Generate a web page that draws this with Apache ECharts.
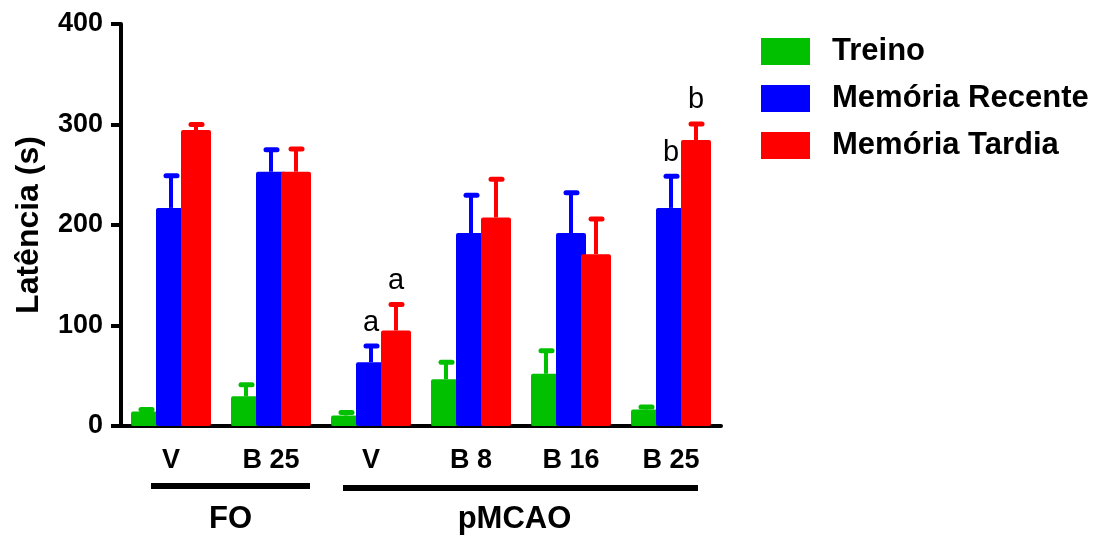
<!DOCTYPE html>
<html><head><meta charset="utf-8">
<script src="https://cdn.jsdelivr.net/npm/echarts@6/dist/echarts.min.js"></script>
<style>html,body{margin:0;padding:0;background:#fff}#c{width:1107px;height:539px}</style>
</head><body><div id="c"></div>
<script>
const categories = ['V', 'B 25', 'V', 'B 8', 'B 16', 'B 25'];
const seriesNames = ['Treino', 'Memória Recente', 'Memória Tardia'];
const treino = [14.5, 29.5, 10.5, 46.5, 52, 16.5];
const treinoErr = [2, 11.5, 3, 17, 23, 2.5];
const recente = [217, 253, 63.5, 192, 192, 217];
const recenteErr = [32, 22, 16, 37.5, 40, 31.5];
const tardia = [294.5, 253, 95, 207.5, 171, 284.5];
const tardiaErr = [5.5, 22.5, 26, 38, 35, 16];
const recenteLetters = ['', '', 'a', '', '', 'b'];
const tardiaLetters = ['', '', 'a', '', '', 'b'];
const groupLabels = ['FO', 'pMCAO'];
const groupSpans = [[0, 1], [2, 5]];

const colors = ['#00C000', '#0000FF', '#FF0000'];
const FONT = '"Liberation Sans", Arial, sans-serif';
const BAR_W = 30;
const BAR_GAP = -5;          // px overlap between neighbouring bars
const BAR_STEP = BAR_W + BAR_GAP;

const chart = echarts.init(document.getElementById('c'), null, {renderer: 'canvas'});

function barSeries(i, vals) {
  return {
    type: 'bar', name: seriesNames[i], data: vals,
    barWidth: BAR_W, barGap: (BAR_GAP / BAR_W * 100) + '%', barCategoryGap: '20%',
    itemStyle: {color: colors[i], borderRadius: 2},
    z: 2 + i
  };
}

function errSeries(i, vals, errs, letters) {
  return {
    type: 'custom', name: seriesNames[i] + ' err', z: 10,
    data: vals.map((v, k) => [k, v, errs[k]]),
    encode: {x: 0, y: 1},
    renderItem: function (params, api) {
      const ci = api.value(0), v = api.value(1), e = api.value(2);
      const base = api.coord([ci, v]);
      const top = api.coord([ci, v + e]);
      const x = base[0] + (i - 1) * BAR_STEP;
      const children = [
        {type: 'line', shape: {x1: x, y1: base[1], x2: x, y2: top[1]}, style: {stroke: colors[i], lineWidth: 4}},
        {type: 'line', shape: {x1: x - 5, y1: top[1], x2: x + 6, y2: top[1]}, style: {stroke: colors[i], lineWidth: 5, lineCap: 'round'}}
      ];
      const letter = letters ? letters[ci] : '';
      if (letter) {
        children.push({type: 'text', x: x, y: top[1] - 9,
          style: {text: letter, font: '29px ' + FONT, fill: '#000', align: 'center', verticalAlign: 'bottom'}});
      }
      return {type: 'group', children: children};
    }
  };
}

const option = {
  animation: false,
  backgroundColor: '#fff',
  grid: {left: 121, right: 386, top: 24, bottom: 113, containLabel: false},
  legend: {
    orient: 'vertical', left: 756, top: 31,
    data: seriesNames,
    itemWidth: 49, itemHeight: 27, itemGap: 16, icon: 'rect',
    textStyle: {fontSize: 31, fontWeight: 'bold', fontFamily: FONT, color: '#000', lineHeight: 27, padding: [0, 0, 0, 17]}
  },
  xAxis: {
    type: 'category', data: categories,
    axisLine: {lineStyle: {color: '#000', width: 4}},
    axisTick: {alignWithLabel: true, length: 9, lineStyle: {color: '#000', width: 4}},
    axisLabel: {color: '#000', fontSize: 27, fontWeight: 'bold', fontFamily: FONT, margin: 21, interval: 0}
  },
  yAxis: {
    type: 'value', min: 0, max: 400, interval: 100,
    name: 'Latência (s)', nameLocation: 'middle', nameGap: 76,
    nameTextStyle: {color: '#000', fontSize: 32, fontWeight: 'bold', fontFamily: FONT},
    axisLine: {show: true, lineStyle: {color: '#000', width: 4}},
    axisTick: {show: true, length: 10, lineStyle: {color: '#000', width: 4}},
    splitLine: {show: false},
    axisLabel: {color: '#000', fontSize: 27, fontWeight: 'bold', fontFamily: FONT, margin: 18}
  },
  series: [
    barSeries(0, treino), barSeries(1, recente), barSeries(2, tardia),
    errSeries(0, treino, treinoErr, null),
    errSeries(1, recente, recenteErr, recenteLetters),
    errSeries(2, tardia, tardiaErr, tardiaLetters)
  ]
};
chart.setOption(option);

// group annotation lines and labels under the axis, positioned from the axis scale
const spanPad = [[-20, 39], [-28, 27]];
const lineDy = [60, 62];
const textDx = [0, -6];
const axisY = chart.convertToPixel({yAxisIndex: 0}, 0);
const graphics = [];
groupSpans.forEach(function (sp, g) {
  const x1 = chart.convertToPixel({xAxisIndex: 0}, sp[0]) + spanPad[g][0];
  const x2 = chart.convertToPixel({xAxisIndex: 0}, sp[1]) + spanPad[g][1];
  graphics.push({type: 'rect', shape: {x: x1, y: axisY + lineDy[g] - 3, width: x2 - x1, height: 6}, style: {fill: '#000'}});
  graphics.push({type: 'text', x: (x1 + x2) / 2 + textDx[g], y: axisY + 93,
    style: {text: groupLabels[g], font: 'bold 31px ' + FONT, fill: '#000', align: 'center', verticalAlign: 'middle'}});
});
chart.setOption({graphic: graphics});
</script>
</body></html>
